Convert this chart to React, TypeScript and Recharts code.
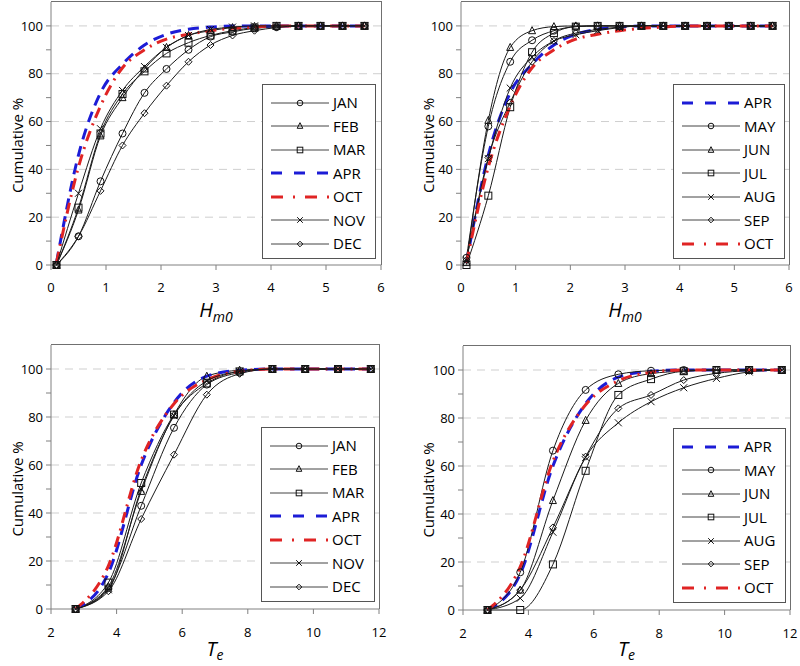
import React from 'react';
import { LineChart, Line, XAxis, YAxis, ReferenceLine, Legend, Label } from 'recharts';

// bin centres
const hBins = [0.1, 0.5, 0.9, 1.3, 1.7, 2.1, 2.5, 2.9, 3.3, 3.7, 4.1, 4.5, 4.9, 5.3, 5.7];
const teBins = [2.75, 3.75, 4.75, 5.75, 6.75, 7.75, 8.75, 9.75, 10.75, 11.75];

// Hm0 cumulative %
const hJan = [0, 12, 35, 55, 72, 82, 90, 95.5, 97.5, 99, 99.5, 100, 100, 100, 100];
const hFeb = [0, 23, 54, 70, 82, 91, 96, 98, 99.3, 99.8, 100, 100, 100, 100, 100];
const hMar = [0, 24, 55, 71.5, 81, 88.5, 93, 96, 98, 99.3, 100, 100, 100, 100, 100];
const hApr = [1, 46, 72, 84, 92, 96.5, 98.6, 99.5, 100, 100, 100, 100, 100, 100, 100];
const hMay = [3, 58, 85, 94, 98, 99.7, 100, 100, 100, 100, 100, 100, 100, 100, 100];
const hJun = [1, 60.5, 91, 98, 99.7, 100, 100, 100, 100, 100, 100, 100, 100, 100, 100];
const hJul = [0, 29, 66, 89, 97, 99.7, 100, 100, 100, 100, 100, 100, 100, 100, 100];
const hAug = [2, 44.5, 74, 87, 93.7, 96.3, 98, 99.3, 100, 100, 100, 100, 100, 100, 100];
const hSep = [2, 45, 68, 85, 93.7, 97, 98.5, 99.5, 100, 100, 100, 100, 100, 100, 100];
const hOct = [1, 41, 66.5, 82.5, 90, 94.5, 96.5, 98, 99, 99.5, 100, 100, 100, 100, 100];
const hNov = [0, 30, 57, 73, 83, 91, 96, 98.5, 99.5, 100, 100, 100, 100, 100, 100];
const hDec = [0, 12, 31, 50, 63.5, 75, 85, 92, 96, 98, 99.3, 100, 100, 100, 100];

// Te cumulative %
const tJan = [0, 8.7, 43, 75.5, 93.5, 98.5, 100, 100, 100, 100];
const tFeb = [0, 9.4, 49, 81, 97, 99.5, 100, 100, 100, 100];
const tMar = [0, 11, 52.5, 81, 94, 99, 100, 100, 100, 100];
const tApr = [0, 15, 60, 86, 97, 99.5, 100, 100, 100, 100];
const tMay = [0, 15.7, 66.4, 91.7, 98.2, 99.7, 100, 100, 100, 100];
const tJun = [0, 8.3, 45.6, 79, 94.4, 98.5, 99.5, 100, 100, 100];
const tJul = [0, 0, 19, 58, 89.6, 96.2, 99.5, 100, 100, 100];
const tAug = [0, 4.9, 32.4, 63.6, 78, 86.8, 92.6, 96.5, 99.2, 100];
const tSep = [0, 8.3, 34.4, 63.9, 84, 89.6, 95.8, 98.6, 99.7, 100];
const tOct = [0, 18, 62, 85.5, 95.5, 99, 100, 100, 100, 100];
const tNov = [0, 8, 50, 80.5, 95, 99, 100, 100, 100, 100];
const tDec = [0, 7.4, 37.5, 64.3, 89.3, 98, 100, 100, 100, 100];

const hTicks = [0, 1, 2, 3, 4, 5, 6];
const teTicks = [2, 4, 6, 8, 10, 12];
const yTicks = [0, 10, 20, 30, 40, 50, 60, 70, 80, 90, 100];
const gridValues = [20, 40, 60, 80, 100];
const Y_MAX = 110;

const W = 400;
const H = 333;

type Style = { marker?: string; color: string; width: number; dash?: string; legendDash?: string };
const BLACK: Style = { color: '#1a1a1a', width: 1 };
const styles: Record<string, Style> = {
  JAN: { ...BLACK, marker: 'circle' },
  FEB: { ...BLACK, marker: 'triangle' },
  MAR: { ...BLACK, marker: 'square' },
  APR: { color: '#1c1cd6', width: 3, dash: '11 7', legendDash: '11 12' },
  MAY: { ...BLACK, marker: 'circle' },
  JUN: { ...BLACK, marker: 'triangle' },
  JUL: { ...BLACK, marker: 'square' },
  AUG: { ...BLACK, marker: 'cross' },
  SEP: { ...BLACK, marker: 'diamond' },
  OCT: { color: '#e02424', width: 3, dash: '11 6 2 6', legendDash: '12 10 2 10' },
  NOV: { ...BLACK, marker: 'cross' },
  DEC: { ...BLACK, marker: 'diamond' },
};

function Marker({ shape, cx, cy, s = 3.5 }: { shape: string; cx: number; cy: number; s?: number }) {
  const common = { fill: 'none', stroke: '#111', strokeWidth: 1 };
  if (cx == null || cy == null) return null;
  switch (shape) {
    case 'circle':
      return <circle cx={cx} cy={cy} r={s} {...common} />;
    case 'triangle':
      return <polygon points={`${cx},${cy - s - 0.5} ${cx - s},${cy + s - 0.5} ${cx + s},${cy + s - 0.5}`} {...common} />;
    case 'square':
      return <rect x={cx - s} y={cy - s} width={2 * s} height={2 * s} {...common} />;
    case 'cross':
      return <path d={`M${cx - s},${cy - s}L${cx + s},${cy + s}M${cx - s},${cy + s}L${cx + s},${cy - s}`} {...common} />;
    case 'diamond':
      return <polygon points={`${cx},${cy - s} ${cx + s},${cy} ${cx},${cy + s} ${cx - s},${cy}`} {...common} />;
    default:
      return null;
  }
}

function LegendBox({ names, w, h }: { names: string[]; w: number; h: number }) {
  return (
    <div style={{ width: w, height: h, boxSizing: 'border-box', border: '1px solid #555', background: '#fff', paddingTop: 6 }}>
      {names.map((n) => {
        const st = styles[n];
        return (
          <div key={n} style={{ display: 'flex', alignItems: 'center', height: 23.5 }}>
            <svg width={58} height={14} style={{ marginLeft: 8, display: 'block' }}>
              <line x1={0} x2={58} y1={7} y2={7} stroke={st.marker ? '#444' : st.color} strokeWidth={st.marker ? 1 : 3} strokeDasharray={st.legendDash} />
              {st.marker && <Marker shape={st.marker} cx={29} cy={7} s={2.8} />}
            </svg>
            <span style={{ marginLeft: 4, fontSize: 15, lineHeight: '15px', color: '#000' }}>{n}</span>
          </div>
        );
      })}
    </div>
  );
}

type Panel = {
  left: number; top: number;
  margin: { top: number; right: number; left: number; bottom: number };
  yW: number; xH: number; yLabelX: number; titleY: number; subDy: number;
  bins: number[]; series: [string, number[]][];
  xDomain: [number, number]; xTicks: number[]; tickMargin: number;
  title: string; sub: string;
  legend: { left: number; top: number; w: number; h: number };
};

function ChartPanel({ p }: { p: Panel }) {
  const data = p.bins.map((x, i) => {
    const row: Record<string, number> = { x };
    p.series.forEach(([n, vals]) => { row[n] = vals[i]; });
    return row;
  });
  const names = p.series.map(([n]) => n);
  // plot box, used only for the top/right frame edges
  const plotL = p.margin.left + p.yW;
  const plotT = p.margin.top;
  const plotW = W - plotL - p.margin.right;
  const plotH = H - plotT - p.xH - p.margin.bottom;
  return (
    <div style={{ position: 'absolute', left: p.left, top: p.top, width: W, height: H }}>
      <LineChart width={W} height={H} data={data} margin={p.margin} accessibilityLayer={false}>
        <XAxis
          dataKey="x" type="number" domain={p.xDomain} ticks={p.xTicks} interval={0}
          height={p.xH} tickSize={5} tickMargin={p.tickMargin}
          stroke="#808080" tick={{ fill: '#000', fontSize: 13 }}
        >
          <Label
            content={(lp: any) => {
              const vb = lp.viewBox || {};
              return (
                <text x={vb.x + vb.width / 2} y={vb.y + p.titleY} textAnchor="middle" fontStyle="italic" fontSize={20} fill="#000">
                  <tspan>{p.title}</tspan>
                  <tspan dy={p.subDy} fontSize={14}>{p.sub}</tspan>
                </text>
              );
            }}
          />
        </XAxis>
        <YAxis
          type="number" domain={[0, Y_MAX]} ticks={yTicks} interval={0} width={p.yW}
          tickSize={5} tickMargin={3} stroke="#808080"
          tick={{ fill: '#000', fontSize: 13 }}
          tickFormatter={(v: number) => (v % 20 === 0 ? String(v) : '')}
        >
          <Label
            content={(lp: any) => {
              const vb = lp.viewBox || {};
              const cx = vb.x + p.yLabelX;
              const cy = vb.y + vb.height / 2 + 12;
              return (
                <text x={cx} y={cy} transform={`rotate(-90, ${cx}, ${cy})`} textAnchor="middle" dominantBaseline="central" fontSize={15} fill="#000">
                  Cumulative %
                </text>
              );
            }}
          />
        </YAxis>
        {gridValues.map((v) => (
          <ReferenceLine key={v} y={v} stroke="#cfcfcf" strokeDasharray="8 6" />
        ))}
        {names.map((n) => {
          const st = styles[n];
          return (
            <Line
              key={n} dataKey={n} name={n} type="monotone"
              stroke={st.color} strokeWidth={st.width} strokeDasharray={st.dash}
              isAnimationActive={false} activeDot={false}
              dot={st.marker ? (dp: any) => <Marker key={`${n}-${dp.index}`} shape={st.marker as string} cx={dp.cx} cy={dp.cy} /> : false}
            />
          );
        })}
        <Legend
          layout="vertical" align="center" verticalAlign="middle"
          wrapperStyle={{ left: p.legend.left, top: p.legend.top, width: p.legend.w, height: p.legend.h }}
          content={() => <LegendBox names={names} w={p.legend.w} h={p.legend.h} />}
        />
      </LineChart>
      <div
        style={{
          position: 'absolute', zIndex: 5, left: plotL, top: plotT - 1, width: plotW + 1, height: plotH + 1,
          borderTop: '1px solid #707070', borderRight: '1px solid #707070', boxSizing: 'border-box', pointerEvents: 'none',
        }}
      />
    </div>
  );
}

const panels: Panel[] = [
  {
    left: 0, top: 0, margin: { top: 2, right: 19, left: 0, bottom: 0 }, yW: 51, xH: 68, yLabelX: 17, titleY: 52, subDy: 5,
    bins: hBins,
    series: [['JAN', hJan], ['FEB', hFeb], ['MAR', hMar], ['APR', hApr], ['OCT', hOct], ['NOV', hNov], ['DEC', hDec]],
    xDomain: [0, 6], xTicks: hTicks, tickMargin: 13, title: 'H', sub: 'm0',
    legend: { left: 262, top: 84, w: 114, h: 175 },
  },
  {
    left: 400, top: 0, margin: { top: 2, right: 11, left: 0, bottom: 0 }, yW: 61, xH: 68, yLabelX: 28, titleY: 52, subDy: 5,
    bins: hBins,
    series: [['APR', hApr], ['MAY', hMay], ['JUN', hJun], ['JUL', hJul], ['AUG', hAug], ['SEP', hSep], ['OCT', hOct]],
    xDomain: [0, 6], xTicks: hTicks, tickMargin: 13, title: 'H', sub: 'm0',
    legend: { left: 273, top: 84, w: 112, h: 175 },
  },
  {
    left: 0, top: 333, margin: { top: 12, right: 21, left: 0, bottom: 0 }, yW: 51, xH: 57, yLabelX: 17, titleY: 47, subDy: 4,
    bins: teBins,
    series: [['JAN', tJan], ['FEB', tFeb], ['MAR', tMar], ['APR', tApr], ['OCT', tOct], ['NOV', tNov], ['DEC', tDec]],
    xDomain: [2, 12], xTicks: teTicks, tickMargin: 14, title: 'T', sub: 'e',
    legend: { left: 261, top: 94, w: 114, h: 175 },
  },
  {
    left: 400, top: 333, margin: { top: 13, right: 10, left: 0, bottom: 0 }, yW: 63, xH: 56, yLabelX: 28, titleY: 46, subDy: 4,
    bins: teBins,
    series: [['APR', tApr], ['MAY', tMay], ['JUN', tJun], ['JUL', tJul], ['AUG', tAug], ['SEP', tSep], ['OCT', tOct]],
    xDomain: [2, 12], xTicks: teTicks, tickMargin: 14, title: 'T', sub: 'e',
    legend: { left: 273, top: 95, w: 113, h: 175 },
  },
];

export default function App() {
  return (
    <div style={{ position: 'absolute', left: 0, top: 0, width: 800, height: 666, background: '#fff', fontFamily: "'Open Sans', sans-serif" }}>
      {panels.map((p, i) => (
        <ChartPanel key={i} p={p} />
      ))}
    </div>
  );
}
